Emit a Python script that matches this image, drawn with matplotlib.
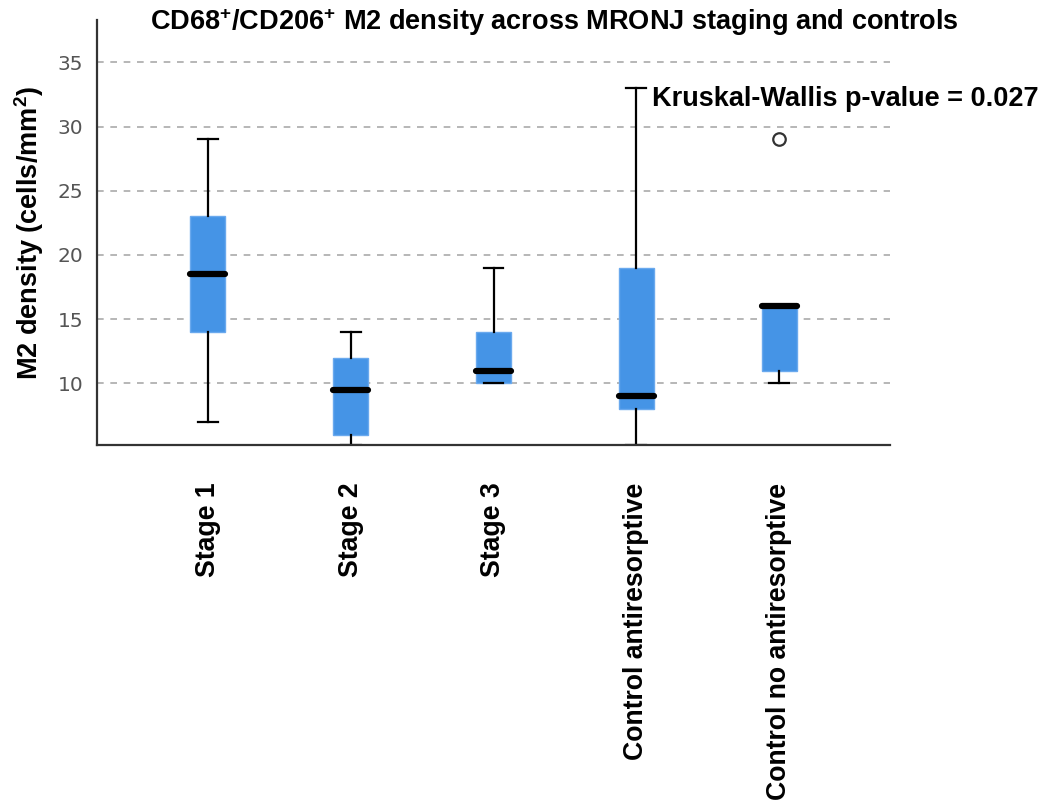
import matplotlib
matplotlib.use("Agg")
import matplotlib.pyplot as plt

plt.rcParams["mathtext.fontset"] = "custom"
plt.rcParams["mathtext.rm"] = "Liberation Sans"
plt.rcParams["mathtext.bf"] = "Liberation Sans:bold"

categories = ["Stage 1", "Stage 2", "Stage 3", "Control antiresorptive", "Control no antiresorptive"]
whisker_low = [7, 5.2, 10, 5.2, 10]
q1 = [14, 6, 10, 8, 11]
median = [18.5, 9.5, 11, 9, 16]
q3 = [23, 12, 14, 19, 16]
whisker_high = [29, 14, 19, 33, 16]
outliers = [[], [], [], [], [29]]
yticks = [10, 15, 20, 25, 30, 35]

title = r"CD68$^{\mathbf{+}}$/CD206$^{\mathbf{+}}$ M2 density across MRONJ staging and controls"
ylabel = r"M2 density (cells/mm$^{\mathbf{2}}$)"
annot = "Kruskal-Wallis p-value = 0.027"

FAM = ["Liberation Sans", "DejaVu Sans"]
FS = 19.5

fig = plt.figure(figsize=(10.51, 8.09), dpi=100)
ax = fig.add_axes([97/1051, 1-445/809, (890-97)/1051, (445-20)/809])

stats = []
for i, c in enumerate(categories):
    stats.append(dict(label=c, whislo=whisker_low[i], q1=q1[i], med=median[i],
                      q3=q3[i], whishi=whisker_high[i], fliers=outliers[i]))

positions = list(range(1, len(categories) + 1))
ax.bxp(stats, positions=positions, widths=0.245, patch_artist=True, showfliers=True,
       boxprops=dict(facecolor="#4594e6", edgecolor="#6aa9ee", linewidth=1.0),
       medianprops=dict(color="black", linewidth=4.5, solid_capstyle="round"),
       whiskerprops=dict(color="black", linewidth=1.6),
       capprops=dict(color="black", linewidth=1.6),
       capwidths=0.14,
       flierprops=dict(marker="o", markersize=9, markerfacecolor="white",
                       markeredgecolor="#333333", markeredgewidth=1.6))

ax.set_xlim(0.224, 5.776)
ax.set_ylim(5.2, 38.3)
ax.set_yticks(yticks)
ax.set_yticklabels([str(t) for t in yticks], fontsize=14.5, color="#555555", family="DejaVu Sans")
ax.tick_params(axis="y", length=0, pad=10)
ax.tick_params(axis="x", length=0, pad=27)
ax.set_xticks(positions)
ax.set_xticklabels(categories, rotation=90, fontsize=19.2, fontweight="bold",
                   family=FAM, va="top", ha="center")

ax.grid(axis="y", linestyle=(0, (4, 4)), color="#aaaaaa", linewidth=1.2)
ax.set_axisbelow(True)
for s in ["top", "right"]:
    ax.spines[s].set_visible(False)
for s in ["left", "bottom"]:
    ax.spines[s].set_color("#333333")
    ax.spines[s].set_linewidth(1.6)

ax.set_ylabel(ylabel, fontsize=FS, fontweight="bold", family=FAM, labelpad=8)

fig.text(554/1051, 1-22/809, title, ha="center", va="center", fontsize=FS,
         fontweight="bold", family=FAM)
fig.text(652/1051, 1-99/809, annot, ha="left", va="center", fontsize=FS,
         fontweight="bold", family=FAM)

fig.savefig("out.png", dpi=100, facecolor="white")
